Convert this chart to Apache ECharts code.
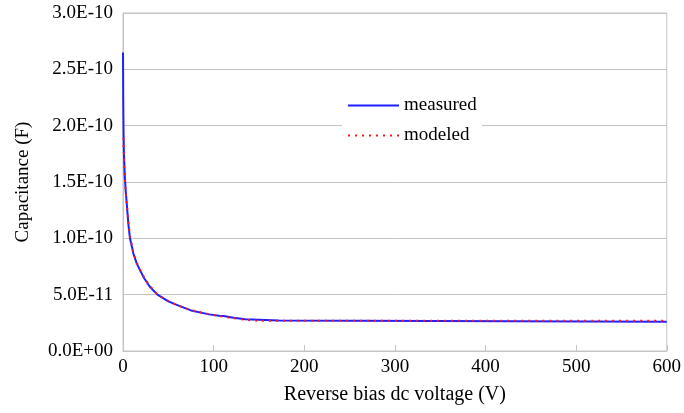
<!DOCTYPE html>
<html>
<head>
<meta charset="utf-8">
<script src="https://cdn.jsdelivr.net/npm/echarts@6/dist/echarts.min.js"></script>
<style>
  html, body { margin: 0; padding: 0; background: #fff; }
  #chart { width: 684px; height: 413px; }
</style>
</head>
<body>
<div id="chart"></div>
<script>
// Reverse bias voltage (V) and measured capacitance (F)
const measuredV = [0, 0.3, 0.6, 1, 2, 3, 4.4, 6, 7.7, 10, 11.3, 15, 18.6, 23, 29.6, 38, 50, 62, 75, 95, 106, 111, 112, 122, 123, 135, 136, 172, 173, 600];
const measuredC = [2.65e-10, 2.2e-10, 1.95e-10, 1.75e-10, 1.55e-10, 1.42e-10, 1.28e-10, 1.12e-10, 1.0e-10, 0.92e-10, 0.87e-10, 0.78e-10, 0.72e-10, 0.65e-10, 0.57e-10, 0.5e-10, 0.44e-10, 0.4e-10, 0.36e-10, 0.325e-10, 0.313e-10, 0.31e-10, 0.299e-10, 0.295e-10, 0.284e-10, 0.282e-10, 0.27e-10, 0.27e-10, 0.26e-10, 0.26e-10];

// Modeled capacitance (F) versus reverse bias voltage (V)
const modeledV = [0.5, 1, 2, 3, 4.5, 6, 8, 10, 12, 15, 19, 24, 30, 38, 50, 62, 75, 90, 105, 120, 135, 150, 600];
const modeledC = [1.89e-10, 1.72e-10, 1.53e-10, 1.41e-10, 1.28e-10, 1.14e-10, 1.01e-10, 0.93e-10, 0.86e-10, 0.79e-10, 0.72e-10, 0.645e-10, 0.575e-10, 0.505e-10, 0.445e-10, 0.4e-10, 0.365e-10, 0.335e-10, 0.312e-10, 0.293e-10, 0.278e-10, 0.269e-10, 0.269e-10];

const seriesNames = ['measured', 'modeled'];
const xAxisTitle = 'Reverse bias dc voltage (V)';
const yAxisTitle = 'Capacitance (F)';

const FONT = '"Liberation Serif", "Times New Roman", serif';

function pairs(xs, ys) {
  return xs.map((x, i) => [x, ys[i]]);
}

// Scientific labels like 5.0E-11 / 0.0E+00
function sciLabel(v) {
  if (Math.abs(v) < 1e-30) return '0.0E+00';
  const s = Number(v).toExponential(1);
  const [m, e] = s.split('e');
  const sign = e[0] === '-' ? '-' : '+';
  const digits = e.replace(/^[+-]/, '').padStart(2, '0');
  return m + 'E' + sign + digits;
}

const chart = echarts.init(document.getElementById('chart'), null, { renderer: 'canvas' });

chart.setOption({
  animation: false,
  backgroundColor: '#ffffff',
  grid: {
    left: 123, right: 13, top: 13, bottom: 62,
    show: true, borderColor: '#c4c4c4', borderWidth: 1, backgroundColor: 'transparent'
  },
  legend: {
    data: seriesNames,
    orient: 'vertical',
    left: 342, top: 90,
    padding: [6, 5, 6, 5],
    backgroundColor: '#ffffff',
    itemWidth: 51, itemHeight: 10, itemGap: 11,
    // legend keys show only the line stroke
    itemStyle: { color: 'transparent', borderWidth: 0, opacity: 0 },
    textStyle: { fontFamily: FONT, fontSize: 19, color: '#000' }
  },
  xAxis: {
    type: 'value',
    min: 0, max: 600, interval: 100,
    name: xAxisTitle,
    nameLocation: 'middle',
    nameGap: 34,
    nameTextStyle: { fontFamily: FONT, fontSize: 20, color: '#000' },
    axisLine: { show: true, lineStyle: { color: '#c4c4c4', width: 1 } },
    axisTick: { show: true, inside: true, length: 6, lineStyle: { color: '#c4c4c4' } },
    axisLabel: { fontFamily: FONT, fontSize: 19, color: '#000', margin: 7 },
    splitLine: { show: false }
  },
  yAxis: {
    type: 'value',
    min: 0, max: 3e-10, interval: 5e-11,
    name: yAxisTitle,
    nameLocation: 'middle',
    nameGap: 90,
    nameRotate: 90,
    nameTextStyle: { fontFamily: FONT, fontSize: 19, color: '#000' },
    axisLine: { show: true, lineStyle: { color: '#c4c4c4', width: 1 } },
    axisTick: { show: false },
    axisLabel: { fontFamily: FONT, fontSize: 19, color: '#000', margin: 10, formatter: sciLabel },
    splitLine: { show: true, lineStyle: { color: '#c4c4c4', width: 1 } }
  },
  series: [
    {
      name: seriesNames[0],
      type: 'line',
      data: pairs(measuredV, measuredC),
      showSymbol: false,
      symbol: 'none',
      lineStyle: { color: '#1f1fff', width: 2 },
      itemStyle: { color: '#1f1fff' },
      z: 2
    },
    {
      name: seriesNames[1],
      type: 'line',
      data: pairs(modeledV, modeledC),
      showSymbol: false,
      symbol: 'none',
      smooth: 0.3,
      lineStyle: { color: '#ff1a1a', width: 2, type: [2, 5] },
      itemStyle: { color: '#ff1a1a' },
      z: 3
    }
  ]
});
</script>
</body>
</html>
